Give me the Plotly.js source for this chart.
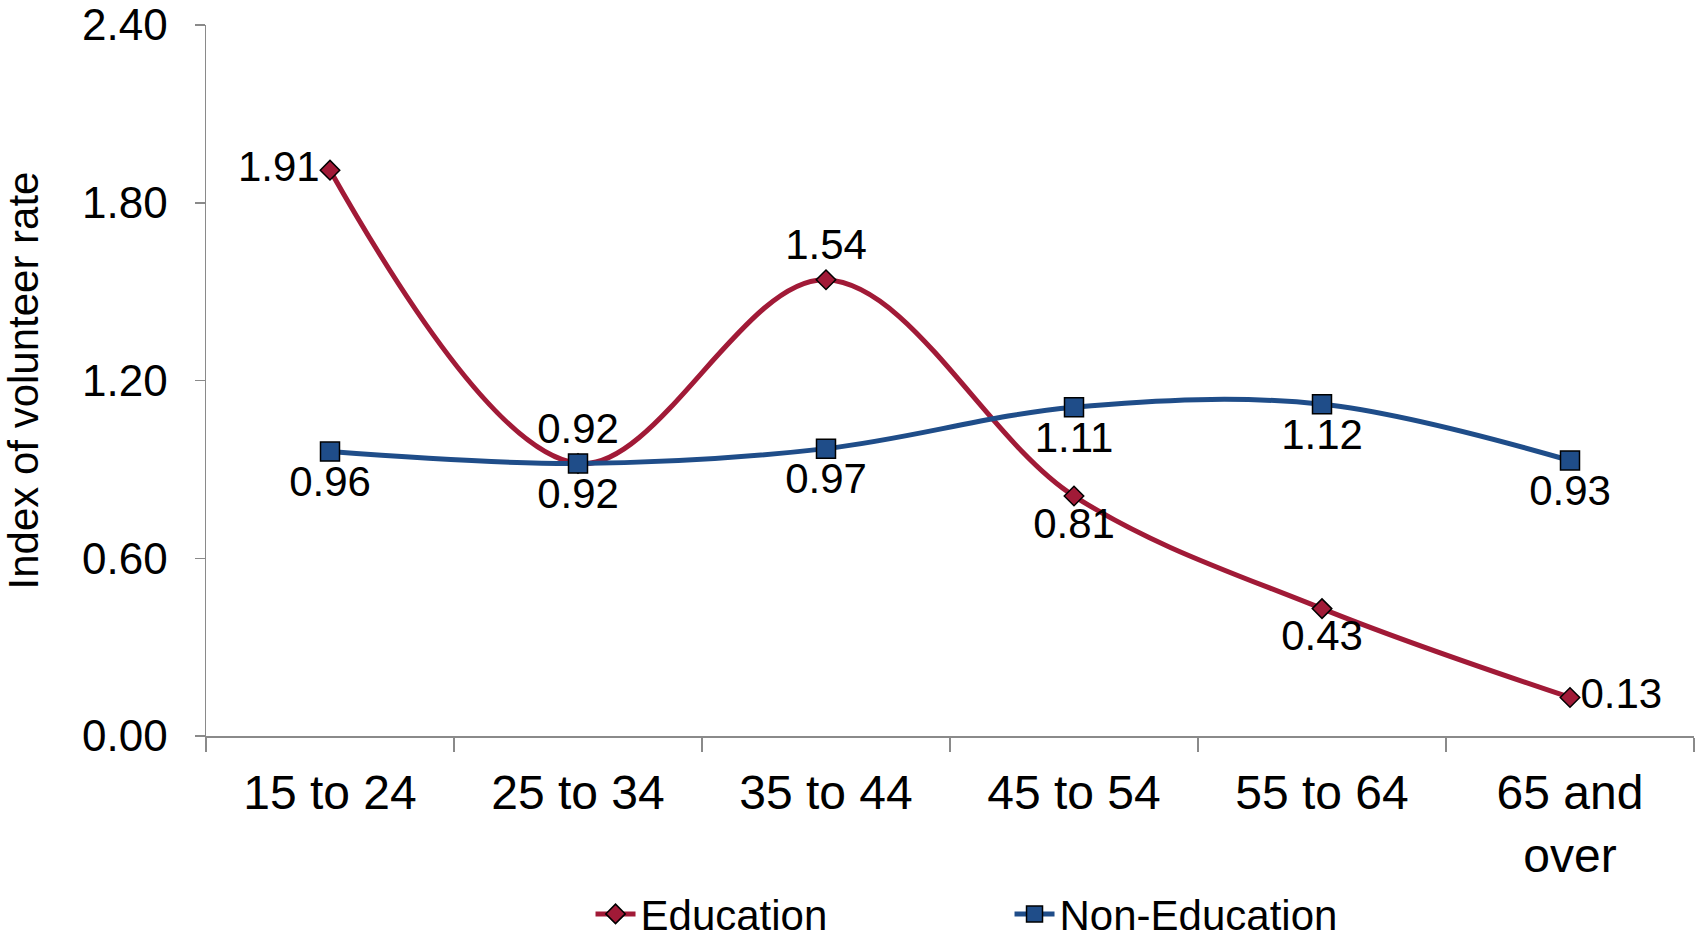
<!DOCTYPE html>
<html>
<head>
<meta charset="utf-8">
<script src="https://cdn.plot.ly/plotly-3.0.1.min.js"></script>
<style>
  html, body { margin: 0; padding: 0; background: #fff; }
  #plotArea { width: 1704px; height: 950px; }
</style>
</head>
<body>
<div id="plotArea"></div>
<script>
// age groups along the x axis
var ageGroups = ["15 to 24", "25 to 34", "35 to 44", "45 to 54", "55 to 64", "65 and<br>over"];

// index of volunteer rate
var educationValues = [1.91, 0.92, 1.54, 0.81, 0.43, 0.13];
var nonEducationValues = [0.96, 0.92, 0.97, 1.11, 1.12, 0.93];

// where each data label sits
var educationLabelPos = ["middle left", "top center", "top center", "bottom center", "bottom center", "middle right"];
var nonEducationLabelPos = ["bottom center", "bottom center", "bottom center", "bottom center", "bottom center", "bottom center"];

var fontFamily = "Liberation Sans, Arial, sans-serif";

var education = {
    x: ageGroups,
    y: educationValues,
    name: "Education",
    type: "scatter",
    mode: "lines+markers+text",
    text: educationValues.map(function (v) { return v.toFixed(2); }),
    textposition: educationLabelPos,
    textfont: {family: fontFamily, size: 42, color: "#000"},
    line: {color: "#A11A37", width: 5, shape: "spline", smoothing: 1},
    marker: {symbol: "diamond", size: 15, color: "#A11A37", line: {color: "#000", width: 1.5}},
    cliponaxis: false,
    hoverinfo: "skip"
};

var nonEducation = {
    x: ageGroups,
    y: nonEducationValues,
    name: "Non-Education",
    type: "scatter",
    mode: "lines+markers+text",
    text: nonEducationValues.map(function (v) { return v.toFixed(2); }),
    textposition: nonEducationLabelPos,
    textfont: {family: fontFamily, size: 42, color: "#000"},
    line: {color: "#1F4D89", width: 5, shape: "spline", smoothing: 1},
    marker: {symbol: "square", size: 19, color: "#1F4D89", line: {color: "#000", width: 1.5}},
    cliponaxis: false,
    hoverinfo: "skip"
};

var layout = {
    width: 1704,
    height: 950,
    margin: {l: 206, r: 10, t: 25, b: 214},
    paper_bgcolor: "#fff",
    plot_bgcolor: "#fff",
    font: {family: fontFamily, color: "#000"},
    showlegend: true,
    legend: {
        orientation: "h",
        x: 0.54, xanchor: "center",
        yref: "container",
        y: 0.002, yanchor: "bottom",
        font: {size: 42, family: fontFamily},
        entrywidth: 364,
        itemwidth: 40
    },
    xaxis: {
        type: "category",
        range: [-0.5, 5.5],
        automargin: false,
        showline: true,
        linecolor: "#8a8a8a",
        linewidth: 1.5,
        showgrid: false,
        zeroline: false,
        ticks: "outside",
        tickson: "boundaries",
        ticklen: 14,
        tickwidth: 1.5,
        tickcolor: "#8a8a8a",
        tickfont: {size: 48, family: fontFamily, color: "#000"},
        ticklabelstandoff: 14,
        fixedrange: true
    },
    yaxis: {
        range: [0, 2.4],
        dtick: 0.6,
        tick0: 0,
        tickformat: ".2f",
        automargin: false,
        showline: true,
        linecolor: "#8a8a8a",
        linewidth: 1.5,
        showgrid: false,
        zeroline: false,
        ticks: "outside",
        ticklen: 10,
        tickwidth: 1.5,
        tickcolor: "#8a8a8a",
        tickfont: {size: 44, family: fontFamily, color: "#000"},
        ticklabelstandoff: 18,
        title: {text: "Index of volunteer rate", font: {size: 42, family: fontFamily, color: "#000"}, standoff: 35},
        fixedrange: true
    }
};

Plotly.newPlot("plotArea", [education, nonEducation], layout, {displayModeBar: false, staticPlot: true});
</script>
</body>
</html>
